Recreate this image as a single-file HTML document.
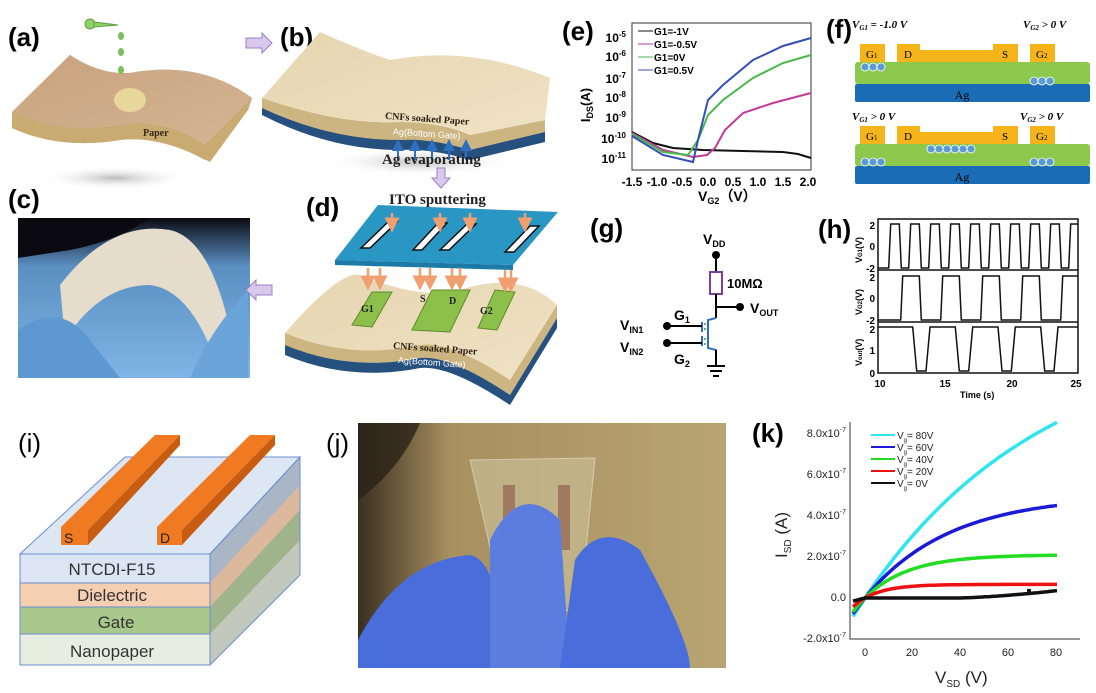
<!DOCTYPE html>
<html><head><meta charset="utf-8">
<style>
html,body{margin:0;padding:0;background:#fff;}
svg{display:block;font-family:"Liberation Sans",sans-serif;}
.lab{font-weight:bold;font-size:26px;}
.ser{font-family:"Liberation Serif",serif;font-weight:bold;}
.tk{font-size:12px;font-weight:bold;}
</style></head>
<body>
<svg width="1096" height="693" viewBox="0 0 1096 693" xmlns="http://www.w3.org/2000/svg">
<defs>
<linearGradient id="brn" x1="0" y1="0" x2="1" y2="1"><stop offset="0" stop-color="#c9a27d"/><stop offset="1" stop-color="#d4b594"/></linearGradient>
<linearGradient id="bge" x1="0" y1="0" x2="1" y2="1"><stop offset="0" stop-color="#e6d5b0"/><stop offset="1" stop-color="#efe2c4"/></linearGradient>
<radialGradient id="shd"><stop offset="0" stop-color="#bbb"/><stop offset="1" stop-color="#fff" stop-opacity="0"/></radialGradient>
<linearGradient id="photoc" x1="0" y1="0" x2="0" y2="1"><stop offset="0" stop-color="#0b0b12"/><stop offset="0.3" stop-color="#5a8fc2"/><stop offset="1" stop-color="#7fb5e6"/></linearGradient>
<linearGradient id="photoj" x1="0" y1="0" x2="1" y2="0"><stop offset="0" stop-color="#3a3020"/><stop offset="0.25" stop-color="#a89060"/><stop offset="1" stop-color="#b8a472"/></linearGradient>
<marker id="ar" markerWidth="6" markerHeight="6" refX="3" refY="3" orient="auto"><path d="M0,0L6,3L0,6z" fill="#f0a070"/></marker>
<marker id="ab" markerWidth="6" markerHeight="6" refX="3" refY="3" orient="auto"><path d="M0,0L6,3L0,6z" fill="#2f6fbf"/></marker>
</defs>

<!-- (a) -->
<text x="8" y="46" class="lab">(a)</text>
<ellipse cx="115" cy="178" rx="75" ry="12" fill="url(#shd)"/>
<path d="M12,112 L70,55 Q100,75 130,73 Q200,60 252,98 L248,110 Q215,140 205,160 Q160,135 120,140 Q60,150 12,128 Z" fill="#c3a07e"/>
<path d="M12,112 Q60,135 120,125 Q165,118 205,145 L252,98 L248,110 L210,162 Q160,135 120,140 Q60,150 12,128Z" fill="#c9ab72"/>
<path d="M12,112 Q60,135 120,125 Q165,118 205,145 L252,98 Q200,60 130,73 Q100,75 70,55Z" fill="url(#brn)"/>
<ellipse cx="130" cy="100" rx="16" ry="12" fill="#e8d79a"/>
<text x="143" y="136" class="ser" font-size="10" fill="#3a2a10">Paper</text>
<circle cx="90" cy="24" r="5" fill="#8fd06a" stroke="#5aa040"/><path d="M94,22 L118,25 L94,27Z" fill="#8fd06a" stroke="#5aa040"/>
<ellipse cx="121" cy="36" rx="3" ry="4" fill="#7bc05a"/><ellipse cx="121" cy="52" rx="3" ry="4" fill="#7bc05a"/><ellipse cx="121" cy="70" rx="3" ry="4" fill="#7bc05a"/>
<path d="M246,38 L262,38 L262,33 L272,43 L262,53 L262,48 L246,48Z" fill="#d9c8ec" stroke="#9b7fc7"/>

<!-- (b) -->
<text x="280" y="46" class="lab">(b)</text>
<ellipse cx="420" cy="162" rx="95" ry="14" fill="url(#shd)"/>
<path d="M262,102 Q340,130 400,128 Q440,128 470,140 L545,125 L545,142 L470,160 Q430,148 400,150 Q330,150 262,115Z" fill="#26507e"/>
<path d="M262,98 Q340,125 400,122 Q440,122 470,135 L545,120 L545,132 L470,150 Q430,138 400,140 Q330,140 262,108Z" fill="#cdb582"/>
<path d="M262,98 L320,32 Q360,50 390,60 Q470,45 550,78 L545,120 L470,135 Q440,122 400,122 Q340,125 262,98Z" fill="url(#bge)"/>
<text x="385" y="122" class="ser" font-size="10" fill="#2a2010" transform="rotate(4 430 118)">CNFs soaked Paper</text>
<text x="393" y="137" font-size="9" fill="#fff" transform="rotate(4 430 133)">Ag(Bottom Gate)</text>
<g stroke="#2f6fbf" stroke-width="2" marker-end="url(#ab)"><line x1="398" y1="160" x2="398" y2="145"/><line x1="415" y1="160" x2="415" y2="145"/><line x1="432" y1="160" x2="432" y2="145"/><line x1="449" y1="160" x2="449" y2="145"/><line x1="466" y1="160" x2="466" y2="145"/></g>
<text x="382" y="164" class="ser" font-size="15" fill="#222">Ag evaporating</text>
<path d="M437,168 L445,168 L445,178 L450,178 L441,188 L432,178 L437,178Z" fill="#d9c8ec" stroke="#9b7fc7"/>

<!-- (c) -->
<text x="8" y="208" class="lab">(c)</text>
<rect x="18" y="218" width="232" height="160" fill="url(#photoc)"/>
<path d="M18,218 L150,218 Q120,240 70,250 L18,258Z" fill="#0a0a10"/>
<path d="M60,285 Q110,220 170,230 Q215,240 235,355 L215,360 Q190,290 150,285 Q100,285 65,340Z" fill="#e6dccb"/>
<path d="M18,330 Q60,300 90,340 L120,378 L18,378Z" fill="#5d98d0"/>
<path d="M248,290 L248,378 L190,378 Q210,330 248,290Z" fill="#6aa4d8"/>
<path d="M246,285 L262,285 L262,280 L272,290 L262,300 L262,295 L246,295Z" transform="rotate(180 259 290)" fill="#d9c8ec" stroke="#9b7fc7"/>

<!-- (d) -->
<text x="306" y="216" class="lab">(d)</text>
<text x="389" y="204" class="ser" font-size="15" fill="#222">ITO sputtering</text>
<path d="M335,260 L378,205 L558,212 L513,265Z" fill="#2996c4"/>
<path d="M335,260 L513,265 L513,270 L335,265Z" fill="#1c7aa6"/>
<g fill="#fff" stroke="#111" stroke-width="1.5">
<path d="M361,248 L388,222 L397,222 L370,248Z"/><path d="M413,250 L438,223 L447,223 L422,250Z"/><path d="M440,250 L467,224 L476,224 L449,250Z"/><path d="M505,252 L530,226 L539,226 L514,252Z"/>
</g>
<path d="M285,333 Q340,270 360,275 Q420,300 460,290 Q520,270 557,305 L510,380 Q450,340 420,345 Q350,360 285,333Z" fill="url(#bge)"/>
<path d="M285,333 Q350,360 420,345 Q450,340 510,380 L557,305 L557,318 L510,395 Q450,355 420,358 Q350,372 285,345Z" fill="#cdb582"/>
<path d="M285,345 Q350,372 420,358 Q450,355 510,395 L557,318 L557,328 L510,405 Q450,365 420,368 Q350,382 285,355Z" fill="#26507e"/>
<g fill="#8cc04a" stroke="#5e8a2a"><path d="M352,325 L372,292 L392,292 L372,327Z"/><path d="M412,330 L432,290 L470,290 L450,332Z"/><path d="M478,328 L495,290 L515,292 L497,330Z"/></g>
<text x="361" y="312" class="ser" font-size="10" font-weight="normal" fill="#222">G1</text>
<text x="420" y="302" class="ser" font-size="10" font-weight="normal" fill="#222">S</text>
<text x="449" y="304" class="ser" font-size="10" font-weight="normal" fill="#222">D</text>
<text x="480" y="314" class="ser" font-size="10" font-weight="normal" fill="#222">G2</text>
<g stroke="#f0a070" stroke-width="2.5" marker-end="url(#ar)"><line x1="368" y1="268" x2="368" y2="283"/><line x1="380" y1="268" x2="380" y2="283"/><line x1="420" y1="268" x2="420" y2="283"/><line x1="430" y1="268" x2="430" y2="283"/><line x1="452" y1="268" x2="452" y2="283"/><line x1="460" y1="268" x2="460" y2="283"/><line x1="505" y1="270" x2="505" y2="285"/><line x1="511" y1="270" x2="511" y2="285"/>
<line x1="392" y1="213" x2="392" y2="225"/><line x1="440" y1="213" x2="440" y2="225"/><line x1="470" y1="213" x2="470" y2="225"/><line x1="525" y1="213" x2="525" y2="225"/></g>
<text x="393" y="352" class="ser" font-size="10" fill="#2a2010" transform="rotate(4 440 348)">CNFs soaked Paper</text>
<text x="398" y="366" font-size="9" fill="#fff" transform="rotate(4 440 362)">Ag(Bottom Gate)</text>

<!-- (e) -->
<text x="562" y="40" class="lab">(e)</text>
<rect x="632" y="23" width="179" height="147" fill="none" stroke="#333" stroke-width="1"/>
<g class="tk" text-anchor="end">
<text x="626" y="42">10<tspan dy="-5" font-size="8">-5</tspan></text>
<text x="626" y="61">10<tspan dy="-5" font-size="8">-6</tspan></text>
<text x="626" y="83">10<tspan dy="-5" font-size="8">-7</tspan></text>
<text x="626" y="102">10<tspan dy="-5" font-size="8">-8</tspan></text>
<text x="626" y="122">10<tspan dy="-5" font-size="8">-9</tspan></text>
<text x="626" y="143">10<tspan dy="-5" font-size="8">-10</tspan></text>
<text x="626" y="163">10<tspan dy="-5" font-size="8">-11</tspan></text>
</g>
<g class="tk" text-anchor="middle">
<text x="632" y="186">-1.5</text><text x="657" y="186">-1.0</text><text x="682" y="186">-0.5</text><text x="708" y="186">0.0</text><text x="733" y="186">0.5</text><text x="758" y="186">1.0</text><text x="783" y="186">1.5</text><text x="808" y="186">2.0</text>
</g>
<text x="698" y="201" font-size="14" font-weight="bold">V<tspan font-size="9" dy="3">G2</tspan><tspan dy="-3">（V）</tspan></text>
<text x="590" y="105" font-size="13" font-weight="bold" transform="rotate(-90 590 105)" text-anchor="middle">I<tspan font-size="9" dy="3">DS</tspan><tspan dy="-3">(A)</tspan></text>
<g transform="translate(23,0)">
<polyline fill="none" stroke="#111" stroke-width="2" points="609,132 630,143 650,148 680,150 720,151 760,152 775,154 788,158"/>
<polyline fill="none" stroke="#c23a9c" stroke-width="2" points="609,133 640,150 670,157 684,155 692,148 702,130 720,113 750,103 788,93"/>
<polyline fill="none" stroke="#47b84a" stroke-width="2" points="609,134 640,152 665,155 675,140 685,115 700,100 730,78 760,63 788,55"/>
<polyline fill="none" stroke="#3450b8" stroke-width="2" points="609,136 640,155 670,162 675,140 685,100 700,85 730,60 760,46 788,38"/>
<g font-size="10" font-weight="bold">
<line x1="615" y1="31" x2="630" y2="31" stroke="#111"/><text x="631" y="35">G1=-1V</text>
<line x1="615" y1="44" x2="630" y2="44" stroke="#c23a9c"/><text x="631" y="48">G1=-0.5V</text>
<line x1="615" y1="57" x2="630" y2="57" stroke="#47b84a"/><text x="631" y="61">G1=0V</text>
<line x1="615" y1="70" x2="630" y2="70" stroke="#3450b8"/><text x="631" y="74">G1=0.5V</text>
</g>
</g>

<!-- (f) -->
<text x="826" y="38" class="lab">(f)</text>
<g class="ser" font-size="11" font-style="italic">
<text x="852" y="28">V<tspan font-size="7" dy="2">G1</tspan><tspan dy="-2"> = -1.0 V</tspan></text>
<text x="1023" y="28">V<tspan font-size="7" dy="2">G2</tspan><tspan dy="-2"> &gt; 0 V</tspan></text>
<text x="852" y="120">V<tspan font-size="7" dy="2">G1</tspan><tspan dy="-2"> &gt; 0 V</tspan></text>
<text x="1020" y="120">V<tspan font-size="7" dy="2">G2</tspan><tspan dy="-2"> &gt; 0 V</tspan></text>
</g>
<g>
<rect x="855" y="84" width="235" height="18" rx="2" fill="#1a6db5"/>
<rect x="855" y="62" width="235" height="22" rx="3" fill="#8cc84b"/>
<rect x="860" y="44" width="25" height="18" fill="#f5b41a"/>
<path d="M897,62 L897,44 L920,44 L920,50 L993,50 L993,44 L1018,44 L1018,62Z" fill="#f5b41a"/>
<rect x="1030" y="44" width="25" height="18" fill="#f5b41a"/>
<text x="866" y="58" font-family="Liberation Serif" font-size="11">G<tspan font-size="7">1</tspan></text>
<text x="904" y="58" font-family="Liberation Serif" font-size="11">D</text>
<text x="1002" y="58" font-family="Liberation Serif" font-size="11">S</text>
<text x="1036" y="58" font-family="Liberation Serif" font-size="11">G<tspan font-size="7">2</tspan></text>
<text x="962" y="99" font-family="Liberation Serif" font-size="12" text-anchor="middle">Ag</text>
</g>
<g fill="#5b9bd5" stroke="#fff" stroke-width="0.8"><circle cx="865" cy="67" r="4"/><circle cx="873" cy="67" r="4"/><circle cx="881" cy="67" r="4"/><circle cx="1034" cy="81" r="4"/><circle cx="1042" cy="81" r="4"/><circle cx="1050" cy="81" r="4"/></g>
<g transform="translate(0,116)">
<rect x="855" y="50" width="235" height="18" rx="2" fill="#1a6db5"/>
<rect x="855" y="28" width="235" height="22" rx="3" fill="#8cc84b"/>
<rect x="860" y="10" width="25" height="18" fill="#f5b41a"/>
<path d="M897,28 L897,10 L920,10 L920,16 L993,16 L993,10 L1018,10 L1018,28Z" fill="#f5b41a"/>
<rect x="1030" y="10" width="25" height="18" fill="#f5b41a"/>
<text x="866" y="24" font-family="Liberation Serif" font-size="11">G<tspan font-size="7">1</tspan></text>
<text x="904" y="24" font-family="Liberation Serif" font-size="11">D</text>
<text x="1002" y="24" font-family="Liberation Serif" font-size="11">S</text>
<text x="1036" y="24" font-family="Liberation Serif" font-size="11">G<tspan font-size="7">2</tspan></text>
<text x="962" y="65" font-family="Liberation Serif" font-size="12" text-anchor="middle">Ag</text>
<g fill="#5b9bd5" stroke="#fff" stroke-width="0.8"><circle cx="865" cy="46" r="4"/><circle cx="873" cy="46" r="4"/><circle cx="881" cy="46" r="4"/><circle cx="1034" cy="46" r="4"/><circle cx="1042" cy="46" r="4"/><circle cx="1050" cy="46" r="4"/>
<circle cx="931" cy="33" r="4"/><circle cx="939" cy="33" r="4"/><circle cx="947" cy="33" r="4"/><circle cx="955" cy="33" r="4"/><circle cx="963" cy="33" r="4"/><circle cx="971" cy="33" r="4"/></g>
</g>

<!-- (g) -->
<text x="590" y="237" class="lab">(g)</text>
<text x="703" y="244" font-size="14" font-weight="bold">V<tspan font-size="9" dy="3">DD</tspan></text>
<circle cx="716" cy="255" r="4"/>
<line x1="716" y1="255" x2="716" y2="272" stroke="#000" stroke-width="2"/>
<rect x="710" y="272" width="12" height="22" fill="none" stroke="#7a3fa0" stroke-width="2"/>
<text x="727" y="288" font-size="13" font-weight="bold">10MΩ</text>
<line x1="716" y1="294" x2="716" y2="318" stroke="#000" stroke-width="2"/>
<line x1="716" y1="307" x2="740" y2="307" stroke="#000" stroke-width="2"/><circle cx="740" cy="307" r="4"/>
<text x="750" y="313" font-size="14" font-weight="bold">V<tspan font-size="9" dy="3">OUT</tspan></text>
<path d="M716,318 L708,320 L708,348 L716,350 L716,362" fill="none" stroke="#2f6fbf" stroke-width="2"/>
<path d="M702,322 L702,332 M702,336 L702,346" stroke="#2f6fbf" stroke-width="2"/>
<g fill="#3aa040"><circle cx="705" cy="324" r="1"/><circle cx="705" cy="329" r="1"/><circle cx="705" cy="339" r="1"/><circle cx="705" cy="344" r="1"/></g>
<line x1="667" y1="326" x2="702" y2="326" stroke="#000" stroke-width="2"/><circle cx="667" cy="326" r="4"/>
<line x1="667" y1="343" x2="702" y2="343" stroke="#000" stroke-width="2"/><circle cx="667" cy="343" r="4"/>
<text x="620" y="330" font-size="14" font-weight="bold">V<tspan font-size="9" dy="3">IN1</tspan></text>
<text x="620" y="352" font-size="14" font-weight="bold">V<tspan font-size="9" dy="3">IN2</tspan></text>
<text x="674" y="320" font-size="14" font-weight="bold">G<tspan font-size="9" dy="3">1</tspan></text>
<text x="674" y="364" font-size="14" font-weight="bold">G<tspan font-size="9" dy="3">2</tspan></text>
<line x1="716" y1="350" x2="716" y2="366" stroke="#000" stroke-width="2"/>
<line x1="707" y1="366" x2="725" y2="366" stroke="#000" stroke-width="2"/><line x1="710" y1="371" x2="722" y2="371" stroke="#000" stroke-width="2"/><line x1="713" y1="376" x2="719" y2="376" stroke="#000" stroke-width="2"/>

<!-- (h) -->
<text x="818" y="238" class="lab">(h)</text>
<rect x="878" y="219" width="200" height="154" fill="none" stroke="#111" stroke-width="1.5"/>
<line x1="878" y1="270" x2="1078" y2="270" stroke="#111" stroke-width="1.5"/>
<line x1="878" y1="322" x2="1078" y2="322" stroke="#111" stroke-width="1.5"/>
<polyline id="hg1" fill="none" stroke="#111" stroke-width="1.5" points=""/>
<polyline id="hg2" fill="none" stroke="#111" stroke-width="1.5" points=""/>
<polyline id="hg3" fill="none" stroke="#111" stroke-width="1.5" points=""/>
<g font-size="10" font-weight="bold" text-anchor="end">
<text x="875" y="229">2</text><text x="875" y="250">0</text><text x="875" y="272">-2</text>
<text x="875" y="281">2</text><text x="875" y="302">0</text><text x="875" y="324">-2</text>
<text x="875" y="333">2</text><text x="875" y="354">1</text><text x="875" y="377">0</text>
</g>
<g font-size="10" font-weight="bold" text-anchor="middle"><text x="880" y="387">10</text><text x="945" y="387">15</text><text x="1012" y="387">20</text><text x="1076" y="387">25</text></g>
<text x="960" y="398" font-size="9" font-weight="bold">Time (s)</text>
<g font-size="9" font-weight="bold">
<text x="862" y="263" transform="rotate(-90 862 263)">V<tspan font-size="6">G1</tspan>(V)</text>
<text x="862" y="315" transform="rotate(-90 862 315)">V<tspan font-size="6">G2</tspan>(V)</text>
<text x="862" y="366" transform="rotate(-90 862 366)">V<tspan font-size="6">out</tspan>(V)</text>
</g>

<!-- (i) -->
<text x="18" y="452" font-size="26">(i)</text>
<path d="M20,554 L125,457 L300,457 L300,485 L210,585 Z" fill="#d8e2ef"/>
<path d="M210,554 L300,457 L300,575 L210,665Z" fill="#aab6c6"/>
<path d="M210,583 L300,485 L300,510 L210,607Z" fill="#dcb89c"/>
<path d="M210,607 L300,510 L300,540 L210,634Z" fill="#9fb48a"/>
<path d="M210,634 L300,540 L300,575 L210,665Z" fill="#c2c8bc"/>
<path d="M20,554 L125,457 L300,457 L210,554Z" fill="#dde6f3" stroke="#6a8fd0"/>
<rect x="20" y="554" width="190" height="29" fill="#dbe5f3" stroke="#6a8fd0"/>
<rect x="20" y="583" width="190" height="24" fill="#f5cfb2" stroke="#6a8fd0"/>
<rect x="20" y="607" width="190" height="27" fill="#a9c98c" stroke="#6a8fd0"/>
<rect x="20" y="634" width="190" height="31" fill="#e8eedf" stroke="#6a8fd0"/>
<path d="M210,554 L300,457 L300,575 L210,665" fill="none" stroke="#6a8fd0"/>
<g font-size="17" fill="#333" text-anchor="middle"><text x="112" y="575">NTCDI-F15</text><text x="112" y="601">Dielectric</text><text x="116" y="628">Gate</text><text x="112" y="657">Nanopaper</text></g>
<path d="M61,527 L155,435 L180,435 L88,530 L88,545 L61,545Z" fill="#f07a22"/>
<path d="M88,530 L180,435 L180,445 L88,545Z" fill="#c85c10"/>
<path d="M157,527 L250,435 L275,435 L182,530 L182,545 L157,545Z" fill="#f07a22"/>
<path d="M182,530 L275,435 L275,445 L182,545Z" fill="#c85c10"/>
<rect x="61" y="527" width="27" height="18" fill="#f07a22"/><rect x="157" y="527" width="25" height="18" fill="#f07a22"/>
<text x="64" y="543" font-size="14" fill="#222">S</text><text x="160" y="543" font-size="14" fill="#222">D</text>

<!-- (j) -->
<text x="326" y="452" font-size="26">(j)</text>
<rect x="358" y="423" width="368" height="245" fill="url(#photoj)"/>
<path d="M358,423 L420,423 Q400,470 358,500Z" fill="#2a2218" opacity="0.8"/>
<path d="M470,460 L595,458 L580,610 L505,612Z" fill="#c9bc94" stroke="#e8e0c8" opacity="0.7"/>
<rect x="503" y="485" width="12" height="65" fill="#a07a60"/><rect x="558" y="485" width="12" height="65" fill="#a07a60"/>
<path d="M358,640 Q400,560 470,555 Q500,560 505,668 L358,668Z" fill="#4a6ddc"/>
<path d="M490,668 L490,540 Q520,480 560,520 L570,668Z" fill="#5b7de0"/>
<path d="M560,668 L575,560 Q600,520 640,550 Q690,640 690,668Z" fill="#4a6ddc"/>

<!-- (k) -->
<text x="752" y="442" class="lab">(k)</text>
<path d="M850,422 L850,639 L1080,639" fill="none" stroke="#333" stroke-width="1"/>
<g font-size="11" fill="#222" text-anchor="end">
<text x="846" y="437">8.0x10<tspan font-size="7" dy="-5">-7</tspan></text>
<text x="846" y="478">6.0x10<tspan font-size="7" dy="-5">-7</tspan></text>
<text x="846" y="519">4.0x10<tspan font-size="7" dy="-5">-7</tspan></text>
<text x="846" y="560">2.0x10<tspan font-size="7" dy="-5">-7</tspan></text>
<text x="846" y="601">0.0</text>
<text x="846" y="642">-2.0x10<tspan font-size="7" dy="-5">-7</tspan></text>
</g>
<g font-size="11" fill="#222" text-anchor="middle"><text x="865" y="656">0</text><text x="912" y="656">20</text><text x="960" y="656">40</text><text x="1008" y="656">60</text><text x="1056" y="656">80</text></g>
<text x="935" y="683" font-size="17" fill="#222">V<tspan font-size="10" dy="4">SD</tspan><tspan dy="-4"> (V)</tspan></text>
<text x="787" y="535" font-size="17" fill="#222" transform="rotate(-90 787 535)" text-anchor="middle">I<tspan font-size="10" dy="4">SD</tspan><tspan dy="-4"> (A)</tspan></text>
<polyline id="k80" fill="none" stroke="#2fe6f0" stroke-width="3.5"/>
<polyline id="k60" fill="none" stroke="#1a1ad8" stroke-width="3.5"/>
<polyline id="k40" fill="none" stroke="#22dd22" stroke-width="3.5"/>
<polyline id="k20" fill="none" stroke="#ee1111" stroke-width="3.5"/>
<polyline id="k0" fill="none" stroke="#111" stroke-width="3.5"/>
<rect x="1027" y="589" width="4" height="4" fill="#111"/>
<g font-size="10" fill="#222">
<line x1="871" y1="435" x2="895" y2="435" stroke="#2fe6f0" stroke-width="2"/><text x="897" y="439">V<tspan font-size="6" dy="3">g</tspan><tspan dy="-3">= 80V</tspan></text>
<line x1="871" y1="447" x2="895" y2="447" stroke="#1a1ad8" stroke-width="2"/><text x="897" y="451">V<tspan font-size="6" dy="3">g</tspan><tspan dy="-3">= 60V</tspan></text>
<line x1="871" y1="459" x2="895" y2="459" stroke="#22dd22" stroke-width="2"/><text x="897" y="463">V<tspan font-size="6" dy="3">g</tspan><tspan dy="-3">= 40V</tspan></text>
<line x1="871" y1="471" x2="895" y2="471" stroke="#ee1111" stroke-width="2"/><text x="897" y="475">V<tspan font-size="6" dy="3">g</tspan><tspan dy="-3">= 20V</tspan></text>
<line x1="871" y1="483" x2="895" y2="483" stroke="#111" stroke-width="2"/><text x="897" y="487">V<tspan font-size="6" dy="3">g</tspan><tspan dy="-3">= 0V</tspan></text>
</g>
</svg>
<script>
function set(id,pts){document.getElementById(id).setAttribute('points',pts.map(p=>p[0].toFixed(1)+','+p[1].toFixed(1)).join(' '));}
var X=v=>865+v*2.4, Y=i=>598-i*206;
function kc(id,sat,k){var p=[];for(var v=-5;v<=80;v+=1){var i=sat*(1-Math.exp(-v/k));p.push([X(v),Y(i)]);}set(id,p);}
kc('k80',1.3,75);kc('k60',0.5,35);kc('k40',0.21,18);kc('k20',0.066,10);
(function(){var p=[];for(var v=-5;v<=80;v++){p.push([X(v),Y(v<0?v*0.003:0.0003*v*(v>40?(v-40)/40:0)*1.5)]);}set('k0',p);})();
var T=t=>878+(t-10)*200/15;
function sq(id,top,bot,start,per,dur){var p=[[878,bot]];for(var t=start;t<25;t+=per){p.push([T(t),bot],[T(t+0.15),top],[T(Math.min(t+dur,25)),top]);if(t+dur<25)p.push([T(t+dur+0.15),bot]);}p.push([1078,p[p.length-1][1]]);set(id,p);}
sq('hg1',224,268,10.8,1.5,0.8);
sq('hg2',276,320,11.7,3,1.4);
(function(){var p=[[878,327]];var top=327,bot=371;for(var t=12.6;t<25;t+=3.2){p.push([T(t),top],[T(t+0.3),bot],[T(t+1),bot],[T(t+1.3),top]);}p.push([1078,top]);set('hg3',p);})();
</script>
</body></html>
